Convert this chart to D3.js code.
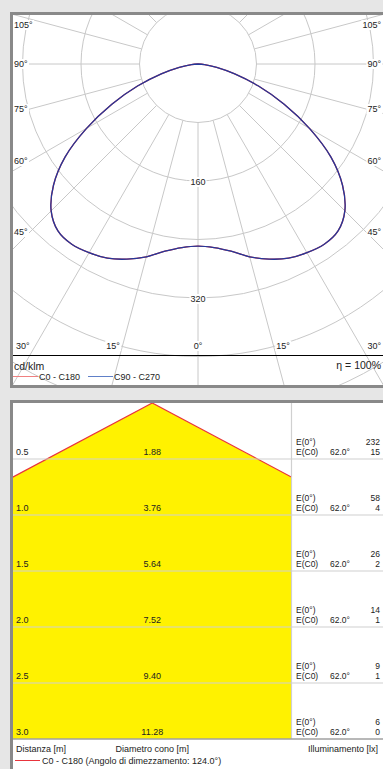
<!DOCTYPE html>
<html><head><meta charset="utf-8">
<script src="https://cdn.jsdelivr.net/npm/d3@7"></script>
<style>
body{margin:0;background:#e6e6e6;}
svg{display:block;font-family:"Liberation Sans",Arial,sans-serif;}
</style>
</head><body>
<svg id="c" width="383" height="769"></svg>
<script>
// ---------- data ----------
const polarAngles   = [0,5,10,15,20,25,30,35,40,45,50,55,60,65,70,75,80,85,90];
const intensityC0   = [249,252,260,273,284,293,298,301,298,284,258,222,176,130,88,52,26,9,0];
const intensityC90  = [249,252,260,273,284,293,298,301,298,284,258,222,176,130,88,52,26,9,0];
const ringValues    = [80,160,240,320,400,480];
const ringLabels    = [160,320];
const sideAngleTicks   = [105,90,75,60,45];
const bottomAngleTicks = [30,15,0];
const legendPolar   = ["C0 - C180","C90 - C270"];
const efficiency    = "η = 100%";
const unitLabel     = "cd/klm";

const distances     = [0.5,1.0,1.5,2.0,2.5,3.0];
const diameters     = ["1.88","3.76","5.64","7.52","9.40","11.28"];
const eCenter       = [232,58,26,14,9,6];
const eC0           = [15,4,2,1,1,0];
const halfAngle     = 62.0;
const halfAngleLabel= "62.0°";

// ---------- setup ----------
const svg = d3.select("#c");
const defs = svg.append("defs");
const gridCol = "#c8c8c8", borderCol = "#898989";
const redCol = "#e8343c", blueCol = "#22389a";

// ---------- panel 1: polar ----------
svg.append("rect").attr("x",11.5).attr("y",13.5).attr("width",380).attr("height",373)
  .attr("fill","#fff").attr("stroke",borderCol).attr("stroke-width",3);
defs.append("clipPath").attr("id","cp1").append("rect")
  .attr("x",13).attr("y",15).attr("width",370).attr("height",370);
const g1 = svg.append("g").attr("clip-path","url(#cp1)");

const cx = 198, cy = 64;
const rScale = d3.scaleLinear().domain([0,80]).range([0,58.5]);
const gp = g1.append("g").attr("transform",`translate(${cx},${cy})`);

gp.selectAll("circle.ring").data(ringValues).join("circle")
  .attr("class","ring").attr("r",d=>rScale(d))
  .attr("fill","none").attr("stroke",gridCol).attr("stroke-width",1);

const spokeAngles = d3.range(0,360,15);
const rad = a => a*Math.PI/180;
gp.selectAll("line.spoke").data(spokeAngles).join("line")
  .attr("class","spoke")
  .attr("x1",a=>rScale(80)*Math.sin(rad(a))).attr("y1",a=>rScale(80)*Math.cos(rad(a)))
  .attr("x2",a=>rScale(900)*Math.sin(rad(a))).attr("y2",a=>rScale(900)*Math.cos(rad(a)))
  .attr("stroke",gridCol).attr("stroke-width",1);

// legend separator
g1.append("line").attr("x1",13).attr("x2",383).attr("y1",355.5).attr("y2",355.5)
  .attr("stroke","#000").attr("stroke-width",1);

function curvePoints(vals){
  const pts = [];
  for(let i=polarAngles.length-1;i>=0;i--) pts.push({phi:Math.PI+rad(polarAngles[i]), v:vals[i]});
  for(let i=1;i<polarAngles.length;i++) pts.push({phi:Math.PI-rad(polarAngles[i]), v:vals[i]});
  return pts;
}
const radial = d3.lineRadial().angle(d=>d.phi).radius(d=>rScale(d.v)).curve(d3.curveCatmullRom);
gp.append("path").attr("d",radial(curvePoints(intensityC0)))
  .attr("fill","none").attr("stroke",redCol).attr("stroke-width",1.3);
gp.append("path").attr("d",radial(curvePoints(intensityC90)))
  .attr("fill","none").attr("stroke",blueCol).attr("stroke-width",1.3);

// labels with white background
function bgText(g, x, y, txt, anchor, size){
  const t = g.append("text").attr("x",x).attr("y",y).attr("text-anchor",anchor||"start")
    .attr("font-size",size||9).attr("fill","#222").attr("dominant-baseline","central").text(txt);
  const b = t.node().getBBox();
  g.insert("rect","text:last-of-type").attr("x",b.x-1).attr("y",b.y).attr("width",b.width+2).attr("height",b.height).attr("fill","#fff");
  t.raise();
}
ringLabels.forEach(v=> bgText(g1, cx, cy+rScale(v)+1, String(v), "middle"));

sideAngleTicks.forEach(a=>{
  const y = a===90 ? cy : (a>90 ? 25 : cy + (cx-30)/Math.tan(rad(a)));
  bgText(g1, 14, y, a+"°", "start");
  bgText(g1, 381, y, a+"°", "end");
});
const bottomX = {0:0, 15:85, 30:175};
bottomAngleTicks.forEach(a=>{
  const dx = bottomX[a];
  if(a===0){ bgText(g1, cx, 346, a+"°", "middle"); }
  else if(a===30){ bgText(g1, 16, 346, a+"°", "start"); bgText(g1, 381, 346, a+"°", "end"); }
  else { bgText(g1, cx-dx, 346, a+"°", "middle"); bgText(g1, cx+dx, 346, a+"°", "middle"); }
});

// legend
g1.append("text").attr("x",14).attr("y",369.5).attr("font-size",10.5).attr("fill","#222").text(unitLabel);
g1.append("text").attr("x",381).attr("y",369).attr("font-size",10.5).attr("fill","#222").attr("text-anchor","end").text(efficiency);
const legX = [13, 88];
legendPolar.forEach((s,i)=>{
  g1.append("line").attr("x1",legX[i]).attr("x2",legX[i]+25).attr("y1",376.5).attr("y2",376.5)
    .attr("stroke",i===0?"#f08080":"#6080c8").attr("stroke-width",1);
  g1.append("text").attr("x",legX[i]+26).attr("y",379.5).attr("font-size",9).attr("fill","#222").text(s);
});

// ---------- panel 2: cone ----------
svg.append("rect").attr("x",11.5).attr("y",401.5).attr("width",380).attr("height",380)
  .attr("fill","#fff").attr("stroke",borderCol).attr("stroke-width",3);
const colL = 13, colR = 291.5, top2 = 403, bot2 = 739;
defs.append("clipPath").attr("id","cp2").append("rect")
  .attr("x",colL).attr("y",top2).attr("width",colR-colL).attr("height",bot2-top2);
const ys = d3.scaleLinear().domain([0,3]).range([top2,bot2]);
const pxPerM = (bot2-top2)/3;
const coneCx = (colL+colR)/2;
const xs = d3.scaleLinear().domain([-1,1]).range([coneCx-pxPerM, coneCx+pxPerM]);
const g2 = svg.append("g").attr("clip-path","url(#cp2)");
const tanA = Math.tan(rad(halfAngle));
const Dmax = distances[distances.length-1];
const conePts = [[0,0],[-Dmax*tanA,Dmax],[Dmax*tanA,Dmax]];
g2.append("path").attr("d", d3.line().x(d=>xs(d[0])).y(d=>ys(d[1]))(conePts)+"Z")
  .attr("fill","#fff200");

// row separators
const gSep = svg.append("g");
gSep.selectAll("line.row").data(distances.slice(0,-1)).join("line")
  .attr("x1",colL).attr("x2",383).attr("y1",d=>ys(d)).attr("y2",d=>ys(d))
  .attr("stroke","#d0d0d0").attr("stroke-width",1.2);
gSep.append("line").attr("x1",colR).attr("x2",colR).attr("y1",top2).attr("y2",bot2)
  .attr("stroke","#d0d0d0").attr("stroke-width",1.2);
gSep.append("line").attr("x1",colL).attr("x2",383).attr("y1",bot2).attr("y2",bot2)
  .attr("stroke","#a0a0a0").attr("stroke-width",1.5);

// cone edges
[-1,1].forEach(s=>{
  g2.append("line").attr("x1",xs(0)).attr("y1",ys(0))
    .attr("x2",xs(s*Dmax*tanA)).attr("y2",ys(Dmax))
    .attr("stroke",redCol).attr("stroke-width",1.2);
});

const g3 = svg.append("g").attr("font-size",9).attr("fill","#222");
distances.forEach((d,i)=>{
  const yb = ys(d);
  g3.append("text").attr("x",16).attr("y",yb-4).text(d.toFixed(1));
  g3.append("text").attr("x",coneCx).attr("y",yb-4).attr("text-anchor","middle").text(diameters[i]);
  g3.append("text").attr("x",296).attr("y",yb-14).attr("font-size",8.5).text("E(0°)");
  g3.append("text").attr("x",296).attr("y",yb-4).attr("font-size",8.5).text("E(C0)");
  g3.append("text").attr("x",330).attr("y",yb-4).attr("font-size",8.5).text(halfAngleLabel);
  g3.append("text").attr("x",380).attr("y",yb-14).attr("font-size",8.5).attr("text-anchor","end").text(eCenter[i]);
  g3.append("text").attr("x",380).attr("y",yb-4).attr("font-size",8.5).attr("text-anchor","end").text(eC0[i]);
});
g3.append("text").attr("x",16).attr("y",752).text("Distanza [m]");
g3.append("text").attr("x",coneCx).attr("y",752).attr("text-anchor","middle").text("Diametro cono [m]");
g3.append("text").attr("x",378).attr("y",752).attr("text-anchor","end").text("Illuminamento [lx]");
g3.append("line").attr("x1",15).attr("x2",40).attr("y1",760.5).attr("y2",760.5).attr("stroke",redCol).attr("stroke-width",1);
g3.append("text").attr("x",42).attr("y",764).text("C0 - C180 (Angolo di dimezzamento: 124.0°)");
</script>
</body></html>
